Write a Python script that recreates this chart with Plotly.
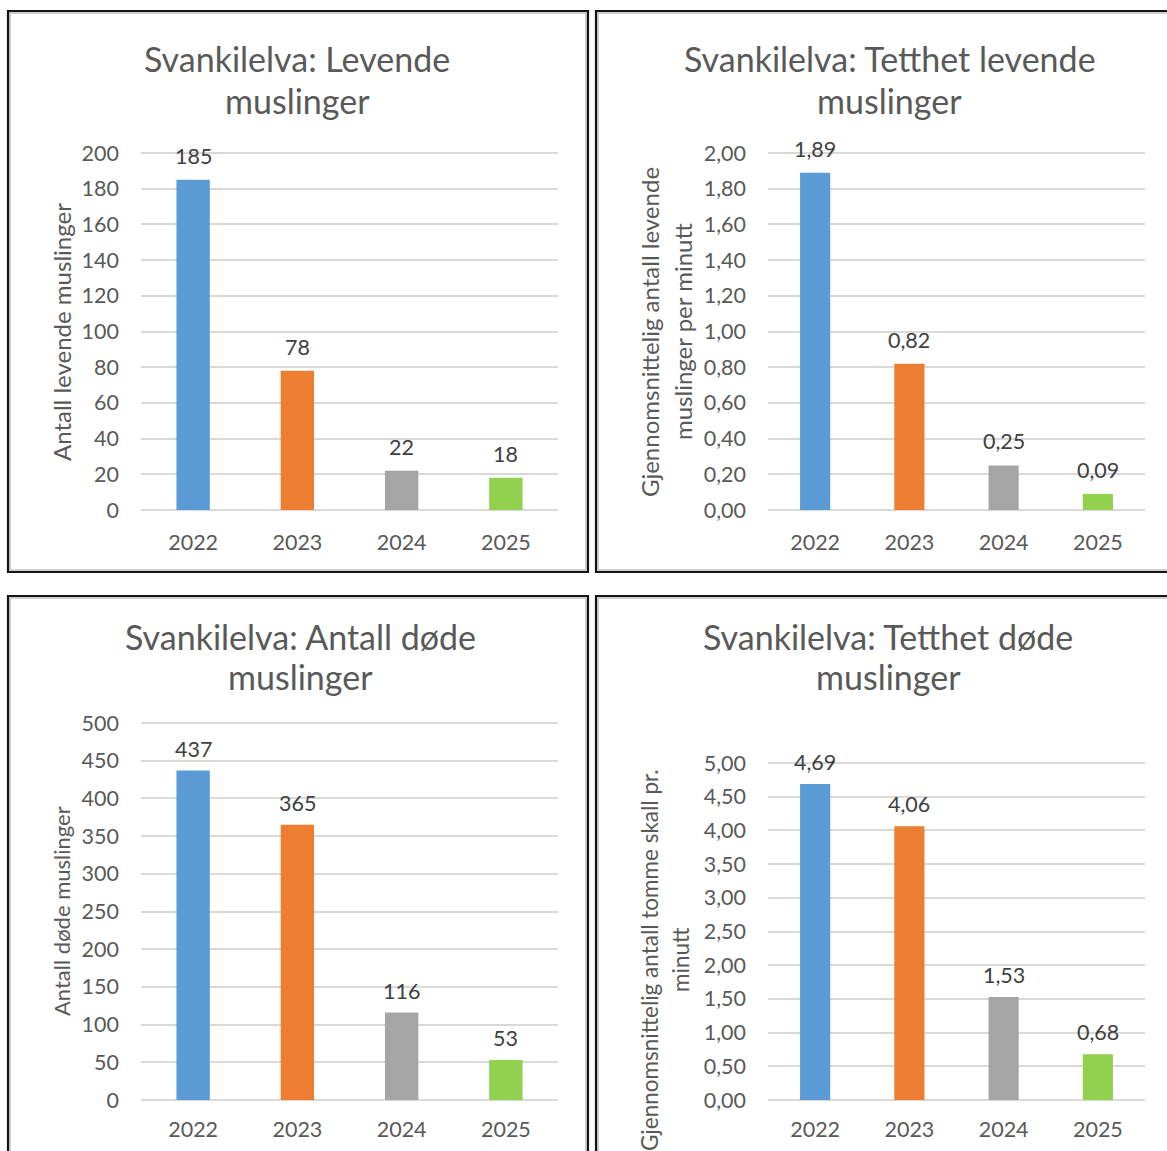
import plotly.graph_objects as go

# Survey results for the Svankilelva mussel monitoring
years = ["2022", "2023", "2024", "2025"]
bar_colors = ["#5B9BD5", "#ED7D31", "#A5A5A5", "#92D050"]

levende = [185, 78, 22, 18]                 # antall levende muslinger
tetthet_levende = [1.89, 0.82, 0.25, 0.09]  # levende muslinger per minutt
dode = [437, 365, 116, 53]                  # antall døde muslinger
tetthet_dode = [4.69, 4.06, 1.53, 0.68]     # tomme skall per minutt

chart_titles = [
    ["Svankilelva: Levende", "muslinger"],
    ["Svankilelva: Tetthet levende", "muslinger"],
    ["Svankilelva: Antall døde", "muslinger"],
    ["Svankilelva: Tetthet døde", "muslinger"],
]
axis_titles = [
    ["Antall levende muslinger"],
    ["Gjennomsnittelig antall levende", "muslinger per minutt"],
    ["Antall døde muslinger"],
    ["Gjennomsnittelig antall tomme skall pr.", "minutt"],
]

W, H = 1167, 1151
FONT = "Lato, 'Open Sans', sans-serif"
TITLE_C = "#595959"
TICK_C = "#595959"
LABEL_C = "#404040"
GRID_C = "#D9D9D9"
TICK_SIZE = 21.5
HEAD = 0.01  # small headroom so the top gridline is drawn inside the plot area


def fx(px):
    return px / W


def fy(py):
    return 1 - py / H


# layout of each panel in pixels: plot box, frame box, title/axis-title anchors
panels = [
    dict(values=levende, plot=(141, 558, 153, 510), frame=(8, 588, 11, 572),
         title_x=297, title_y=(58, 100), ytitle=[(61, 332)], ytitle_size=24,
         ymax=200, dtick=20, decimals=0, shift=24, xstandoff=17),
    dict(values=tetthet_levende, plot=(768, 1145, 153, 510), frame=(596, 1190, 11, 572),
         title_x=890, title_y=(58, 100), ytitle=[(649, 332), (682, 332)], ytitle_size=24,
         ymax=2, dtick=0.2, decimals=2, shift=24, xstandoff=17),
    dict(values=dode, plot=(141, 558, 723, 1100), frame=(8, 588, 596, 1190),
         title_x=300, title_y=(636, 676), ytitle=[(61, 911)], ytitle_size=22,
         ymax=500, dtick=50, decimals=0, shift=22, xstandoff=14),
    dict(values=tetthet_dode, plot=(768, 1145, 763, 1100), frame=(596, 1190, 596, 1190),
         title_x=888, title_y=(636, 676), ytitle=[(650, 960), (681, 960)], ytitle_size=22.5,
         ymax=5, dtick=0.5, decimals=2, shift=22, xstandoff=14),
]


def fmt_value(v, decimals):
    if decimals == 0:
        return f"{v:d}"
    return f"{v:.{decimals}f}".replace(".", ",")


fig = go.Figure()
annotations = []
shapes = []
layout_axes = {}

for i, p in enumerate(panels):
    n = "" if i == 0 else str(i + 1)
    xa, ya = "x" + n, "y" + n
    left, right, top, bottom = p["plot"]
    top_ext = top - HEAD * (bottom - top)

    fig.add_trace(go.Bar(
        x=years, y=p["values"], marker=dict(color=bar_colors, line=dict(width=0)),
        xaxis=xa, yaxis=ya, showlegend=False, hoverinfo="x+y",
    ))

    layout_axes["xaxis" + n] = dict(
        domain=[fx(left), fx(right)], anchor=ya, type="category",
        range=[-0.5, len(years) - 0.5],
        showgrid=False, showline=False, zeroline=False, ticks="",
        tickfont=dict(family=FONT, size=TICK_SIZE, color=TICK_C),
        ticklabelstandoff=p["xstandoff"], fixedrange=True,
    )
    layout_axes["yaxis" + n] = dict(
        domain=[fy(bottom), fy(top_ext)], anchor=xa,
        range=[0, p["ymax"] * (1 + HEAD)],
        dtick=p["dtick"], tick0=0,
        tickformat=(".2f" if p["decimals"] else "d"),
        showgrid=True, gridcolor=GRID_C, gridwidth=2,
        zeroline=True, zerolinecolor=GRID_C, zerolinewidth=2,
        showline=False, ticks="",
        tickfont=dict(family=FONT, size=TICK_SIZE, color=TICK_C),
        ticklabelstandoff=21, fixedrange=True,
    )

    # value labels above the bars (category index as x position)
    for k, v in enumerate(p["values"]):
        annotations.append(dict(
            x=k, y=v, xref=xa, yref=ya, text=fmt_value(v, p["decimals"]),
            showarrow=False, yanchor="middle", xanchor="center", yshift=p["shift"],
            font=dict(family=FONT, size=TICK_SIZE, color=LABEL_C),
        ))

    # two-line chart title
    for line, ty in zip(chart_titles[i], p["title_y"]):
        annotations.append(dict(
            x=fx(p["title_x"]), y=fy(ty), xref="paper", yref="paper", text=line,
            showarrow=False, xanchor="center", yanchor="middle",
            font=dict(family=FONT, size=34, color=TITLE_C),
        ))

    # rotated y-axis title
    for line, (tx, ty) in zip(axis_titles[i], p["ytitle"]):
        annotations.append(dict(
            x=fx(tx), y=fy(ty), xref="paper", yref="paper", text=line,
            showarrow=False, xanchor="center", yanchor="middle", textangle=-90,
            font=dict(family=FONT, size=p["ytitle_size"], color=TICK_C),
        ))

    # chart frame: dark outer line with a soft grey inner edge
    fl, fr, ft, fb = p["frame"]
    shapes.append(dict(
        type="rect", xref="paper", yref="paper",
        x0=fx(fl + 2), x1=fx(fr - 2), y0=fy(fb - 2), y1=fy(ft + 2),
        line=dict(color="#CFCFCF", width=2), fillcolor="rgba(0,0,0,0)", layer="above",
    ))
    shapes.append(dict(
        type="rect", xref="paper", yref="paper",
        x0=fx(fl), x1=fx(fr), y0=fy(fb), y1=fy(ft),
        line=dict(color="#141414", width=2.2), fillcolor="rgba(0,0,0,0)", layer="above",
    ))

fig.update_layout(
    width=W, height=H, margin=dict(l=0, r=0, t=0, b=0, autoexpand=False),
    paper_bgcolor="white", plot_bgcolor="white",
    bargap=0.68, separators=", ",
    font=dict(family=FONT, color=TICK_C),
    annotations=annotations, shapes=shapes,
    **layout_axes,
)

fig.write_html("out.html")
